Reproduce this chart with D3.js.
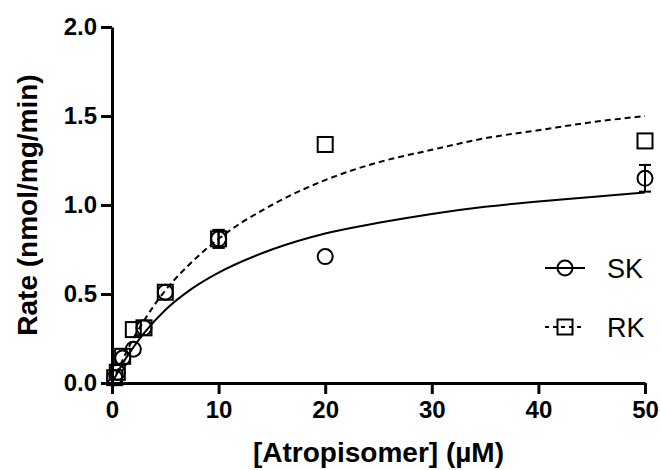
<!DOCTYPE html>
<html>
<head>
<meta charset="utf-8">
<script src="https://cdn.jsdelivr.net/npm/d3@7"></script>
<style>
  body { margin: 0; background: #fff; }
  svg text { font-family: "Liberation Sans", Arial, sans-serif; fill: #000; }
</style>
</head>
<body>
<div id="svg_chart"></div>
<script>
///////////// Data //////////////
var concentrations = [0.25, 0.5, 1, 2, 3, 5, 10, 20, 50];
var sk_rates = [0.03, 0.06, 0.14, 0.19, 0.31, 0.51, 0.81, 0.71, 1.15];
var sk_errors = [0, 0, 0, 0, 0, 0, 0.05, 0, 0.075];
var rk_rates = [0.03, 0.06, 0.15, 0.30, 0.31, 0.51, 0.81, 1.34, 1.36];
var rk_errors = [0, 0, 0, 0, 0, 0, 0.05, 0, 0];

// fitted curves
var fit_x = [0, 1, 2, 3, 5, 7.5, 10, 15, 20, 25, 30, 35, 40, 45, 50];
var sk_fit = [0, 0.11, 0.20, 0.28, 0.41, 0.53, 0.62, 0.75, 0.84, 0.90, 0.95, 0.99, 1.02, 1.045, 1.07];
var rk_fit = [0, 0.13, 0.25, 0.35, 0.52, 0.68, 0.81, 1.00, 1.14, 1.24, 1.31, 1.375, 1.42, 1.465, 1.50];

var x_ticks = [0, 10, 20, 30, 40, 50];
var y_ticks = [0, 0.5, 1.0, 1.5, 2.0];
var series_names = ['SK', 'RK'];

///////////// Layout //////////////
const svg_width = 661
const svg_height = 470
const left = 112
const top_ = 27
const plot_w = 533
const plot_h = 356
const marker_r = 7.5

var svg = d3.select('#svg_chart').append('svg')
  .attr('width', svg_width)
  .attr('height', svg_height);

var x_scale = d3.scaleLinear().domain([0, 50]).range([0, plot_w]);
var y_scale = d3.scaleLinear().domain([0, 2.0]).range([plot_h, 0]);

var plot = svg.append('g')
  .attr('transform', `translate(${left},${top_})`);

// axes
var x_axis = d3.axisBottom(x_scale).tickValues(x_ticks).tickSizeInner(11).tickSizeOuter(0).tickPadding(7)
  .tickFormat(d3.format('d'));
var y_axis = d3.axisLeft(y_scale).tickValues(y_ticks).tickSizeInner(11).tickSizeOuter(0).tickPadding(4)
  .tickFormat(d3.format('.1f'));

var gx = plot.append('g')
  .attr('transform', `translate(0,${plot_h})`)
  .call(x_axis);
var gy = plot.append('g').call(y_axis);

[gx, gy].forEach(function(g){
  g.select('.domain').attr('stroke', '#000').attr('stroke-width', 3);
  g.selectAll('.tick line').attr('stroke', '#000').attr('stroke-width', 3);
  g.selectAll('.tick text')
    .style('font-size', '24px')
    .style('font-weight', 'bold');
});

// axis titles
svg.append('text')
  .attr('x', left + plot_w / 2)
  .attr('y', 462)
  .attr('text-anchor', 'middle')
  .style('font-size', '28px')
  .style('font-weight', 'bold')
  .text('[Atropisomer] (\u00b5M)');

svg.append('text')
  .attr('transform', `translate(37,${top_ + plot_h / 2}) rotate(-90)`)
  .attr('text-anchor', 'middle')
  .style('font-size', '28px')
  .style('font-weight', 'bold')
  .text('Rate (nmol/mg/min)');

// fitted curves
var fit_line = d3.line()
  .x(d => x_scale(d[0]))
  .y(d => y_scale(d[1]))
  .curve(d3.curveMonotoneX);

plot.append('path')
  .datum(fit_x.map((x, i) => [x, sk_fit[i]]))
  .attr('d', fit_line)
  .attr('fill', 'none')
  .attr('stroke', '#000')
  .attr('stroke-width', 2);

plot.append('path')
  .datum(fit_x.map((x, i) => [x, rk_fit[i]]))
  .attr('d', fit_line)
  .attr('fill', 'none')
  .attr('stroke', '#000')
  .attr('stroke-width', 2)
  .attr('stroke-dasharray', '6,4');

// error bars
function draw_errors(rates, errors){
  var data = concentrations.map((x, i) => ({x: x, y: rates[i], e: errors[i]})).filter(d => d.e > 0);
  var g = plot.append('g').attr('stroke', '#000').attr('stroke-width', 2);
  data.forEach(function(d){
    var cx = x_scale(d.x);
    g.append('line').attr('x1', cx).attr('x2', cx)
      .attr('y1', y_scale(d.y - d.e)).attr('y2', y_scale(d.y + d.e));
    [d.y - d.e, d.y + d.e].forEach(function(v){
      g.append('line').attr('x1', cx - 6).attr('x2', cx + 6)
        .attr('y1', y_scale(v)).attr('y2', y_scale(v));
    });
  });
}
draw_errors(sk_rates, sk_errors);
draw_errors(rk_rates, rk_errors);

// points
plot.append('g').selectAll('circle')
  .data(concentrations.map((x, i) => [x, sk_rates[i]]))
  .enter().append('circle')
  .attr('cx', d => x_scale(d[0]))
  .attr('cy', d => y_scale(d[1]))
  .attr('r', marker_r)
  .attr('fill', 'none')
  .attr('stroke', '#000')
  .attr('stroke-width', 2);

plot.append('g').selectAll('rect')
  .data(concentrations.map((x, i) => [x, rk_rates[i]]))
  .enter().append('rect')
  .attr('x', d => x_scale(d[0]) - marker_r)
  .attr('y', d => y_scale(d[1]) - marker_r)
  .attr('width', marker_r * 2)
  .attr('height', marker_r * 2)
  .attr('fill', 'none')
  .attr('stroke', '#000')
  .attr('stroke-width', 2);

// legend
var legend = svg.append('g').attr('transform', 'translate(545,268)');
series_names.forEach(function(name, i){
  var row = legend.append('g').attr('transform', `translate(0,${i * 59})`);
  row.append('line')
    .attr('x1', 0).attr('x2', 40).attr('y1', 0).attr('y2', 0)
    .attr('stroke', '#000').attr('stroke-width', 2)
    .attr('stroke-dasharray', i == 1 ? '4,4' : null);
  if (i == 0) {
    row.append('circle').attr('cx', 20).attr('cy', 0).attr('r', marker_r)
      .attr('fill', 'none').attr('stroke', '#000').attr('stroke-width', 2);
  } else {
    row.append('rect').attr('x', 20 - marker_r).attr('y', -marker_r)
      .attr('width', marker_r * 2).attr('height', marker_r * 2)
      .attr('fill', 'none').attr('stroke', '#000').attr('stroke-width', 2);
  }
  row.append('text')
    .attr('x', 62).attr('y', 10)
    .style('font-size', '27px')
    .text(name);
});
</script>
</body>
</html>
